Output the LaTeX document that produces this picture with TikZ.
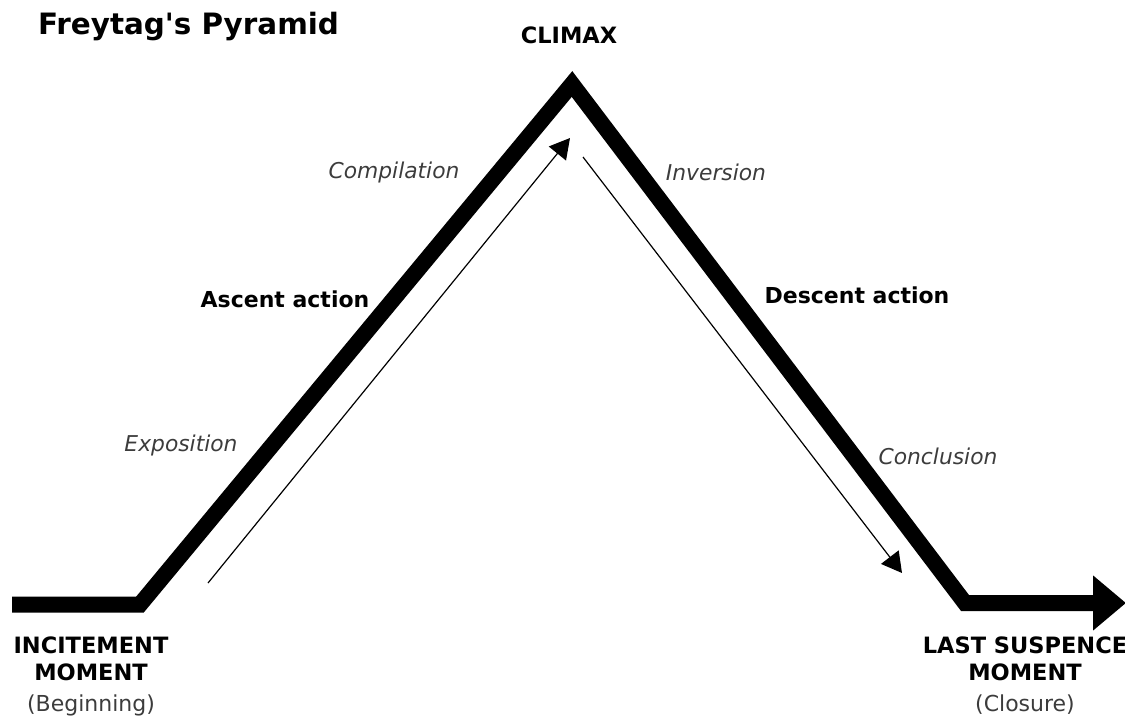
\documentclass[tikz,border=0pt]{standalone}
\usepackage{fontspec}
\setmainfont{DejaVu Sans}[Ligatures=TeXOff]
\usetikzlibrary{arrows.meta}
\definecolor{notegray}{HTML}{3C3C3C}
\begin{document}
\begin{tikzpicture}[x=1pt, y=-1pt]
    % Styles
    \tikzstyle{plot line}=[line width=16pt, line join=miter]
    \tikzstyle{tension arrow}=[line width=1.2pt, -{Triangle[length=20pt,width=22pt]}]
    \tikzstyle{stage label}=[font=\fontsize{22}{26}\selectfont\bfseries, text=black]
    \tikzstyle{point label}=[font=\fontsize{22.5}{27}\selectfont\bfseries, align=center, text=black]
    \tikzstyle{phase label}=[font=\fontsize{21.8}{26}\selectfont\itshape, text=notegray]
    \tikzstyle{note label}=[font=\fontsize{22}{26}\selectfont, text=notegray]

    \useasboundingbox (0,0) rectangle (1125,720);

    % --- Title ---
    \node[anchor=west, inner sep=0pt, font=\fontsize{29.4}{34}\selectfont\bfseries] (title) at (38,27) {Freytag's Pyramid};

    % --- Pyramid line ---
    \coordinate (start) at (12,604.5);
    \coordinate (foot_left) at (140,604.5);
    \coordinate (apex) at (572,84);
    \coordinate (foot_right) at (965,603);
    \coordinate (finish) at (1126,603);

    \draw[plot line, -{Triangle[length=33pt,width=53pt]}] (start) -- (foot_left) -- (apex) -- (foot_right) -- (finish);

    % --- Thin arrows along the sides ---
    \coordinate (rise_from) at (208,583);
    \coordinate (rise_to) at (570,138);
    \coordinate (fall_from) at (583,157);
    \coordinate (fall_to) at (902,573);
    \draw[tension arrow] (rise_from) -- (rise_to);
    \draw[tension arrow] (fall_from) -- (fall_to);

    % --- Points ---
    \node[point label] (climax) at (569,35) {CLIMAX};
    \node[point label] (incitement) at (91,659) {INCITEMENT\\MOMENT};
    \node[note label] (beginning) at (91,705) {(Beginning)};
    \node[point label] (suspence) at (1025,659) {LAST SUSPENCE\\MOMENT};
    \node[note label] (closure) at (1025,705) {(Closure)};

    % --- Stages ---
    \node[stage label] (ascent) at (285,299) {Ascent action};
    \node[stage label] (descent) at (857,295) {Descent action};
    \node[phase label] (exposition) at (181,445) {Exposition};
    \node[phase label] (compilation) at (394,172) {Compilation};
    \node[phase label] (inversion) at (716,172) {Inversion};
    \node[phase label] (conclusion) at (938,456) {Conclusion};
\end{tikzpicture}
\end{document}
